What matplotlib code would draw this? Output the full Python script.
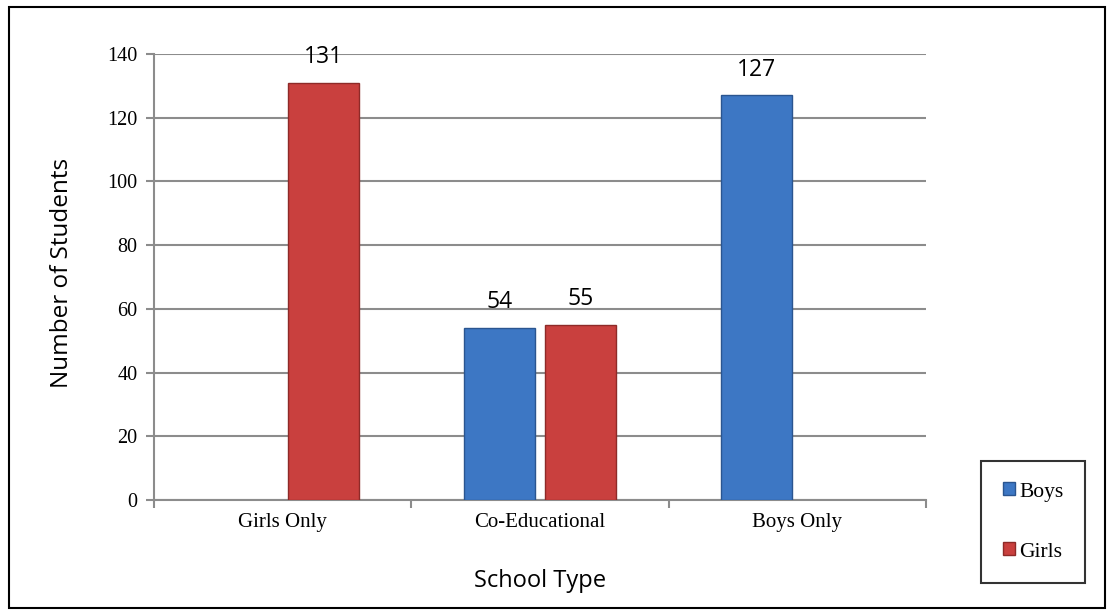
import numpy as np
import matplotlib.pyplot as plt
from matplotlib.patches import Rectangle, Patch

categories = ["Girls Only", "Co-Educational", "Boys Only"]
boys = [None, 54, 127]
girls = [131, 55, None]

boys_color = "#3d77c4"
girls_color = "#c9403e"
grey = "#8c8c8c"

fig = plt.figure(figsize=(11.14, 6.16), dpi=100)
ax = fig.add_axes([0.1382, 0.1883, 0.6930, 0.7240])

x = np.arange(len(categories)) + 0.5
width = 0.276
offset = 0.158

for i in range(len(categories)):
    if boys[i] is not None:
        ax.bar(x[i] - offset, boys[i], width, color=boys_color,
               edgecolor="#2a5590", linewidth=1, zorder=3)
        ax.annotate(str(boys[i]), (x[i] - offset, boys[i]), xytext=(0, 10),
                    textcoords="offset points", ha="center", va="bottom",
                    fontsize=16.5, family="Open Sans", zorder=4)
    if girls[i] is not None:
        ax.bar(x[i] + offset, girls[i], width, color=girls_color,
               edgecolor="#8e2a28", linewidth=1, zorder=3)
        ax.annotate(str(girls[i]), (x[i] + offset, girls[i]), xytext=(0, 10),
                    textcoords="offset points", ha="center", va="bottom",
                    fontsize=16.5, family="Open Sans", zorder=4)

ax.set_xlim(0, 3)
ax.set_ylim(0, 140)
ax.set_yticks(np.arange(0, 141, 20))
ax.set_xticks([0, 1, 2, 3])
ax.set_xticklabels([])
ax.set_xticks(x, minor=True)
ax.set_xticklabels(categories, minor=True, family="Liberation Serif", fontsize=15)
ax.tick_params(axis="x", which="minor", length=0, pad=9)
ax.tick_params(axis="x", which="major", length=6, color=grey, width=1.5)
ax.tick_params(axis="y", length=6, color=grey, width=1.5, pad=6)
for lab in ax.get_yticklabels():
    lab.set_family("Liberation Serif")
    lab.set_fontsize(14.5)

ax.grid(axis="y", color=grey, linewidth=1.5, zorder=0)
ax.set_axisbelow(True)
for s in ["top", "right"]:
    ax.spines[s].set_visible(False)
for s in ["left", "bottom"]:
    ax.spines[s].set_color(grey)
    ax.spines[s].set_linewidth(1.5)

ax.set_ylabel("Number of Students", family="Open Sans", fontsize=17.5)
ax.yaxis.set_label_coords(-0.104, 0.51)
ax.set_xlabel("School Type", family="Open Sans", fontsize=17, labelpad=27)

handles = [Patch(facecolor=boys_color, edgecolor="#2a5590"),
           Patch(facecolor=girls_color, edgecolor="#8e2a28")]
leg = fig.legend(handles, ["Boys", "Girls"], loc="center",
                 bbox_to_anchor=(0.9273, 0.1526), frameon=True, fancybox=False,
                 prop={"family": "Liberation Serif", "size": 15.5},
                 handlelength=0.55, handleheight=0.55, handletextpad=0.2,
                 labelspacing=1.9, borderpad=1.0, borderaxespad=0)
leg.get_frame().set_edgecolor("black")
leg.get_frame().set_linewidth(1.5)

fig.patches.append(Rectangle((9 / 1114, 1 - 608 / 616), 1096 / 1114, 601 / 616,
                             transform=fig.transFigure, fill=False,
                             edgecolor="black", linewidth=1.5))

fig.savefig("out.png", dpi=100)
